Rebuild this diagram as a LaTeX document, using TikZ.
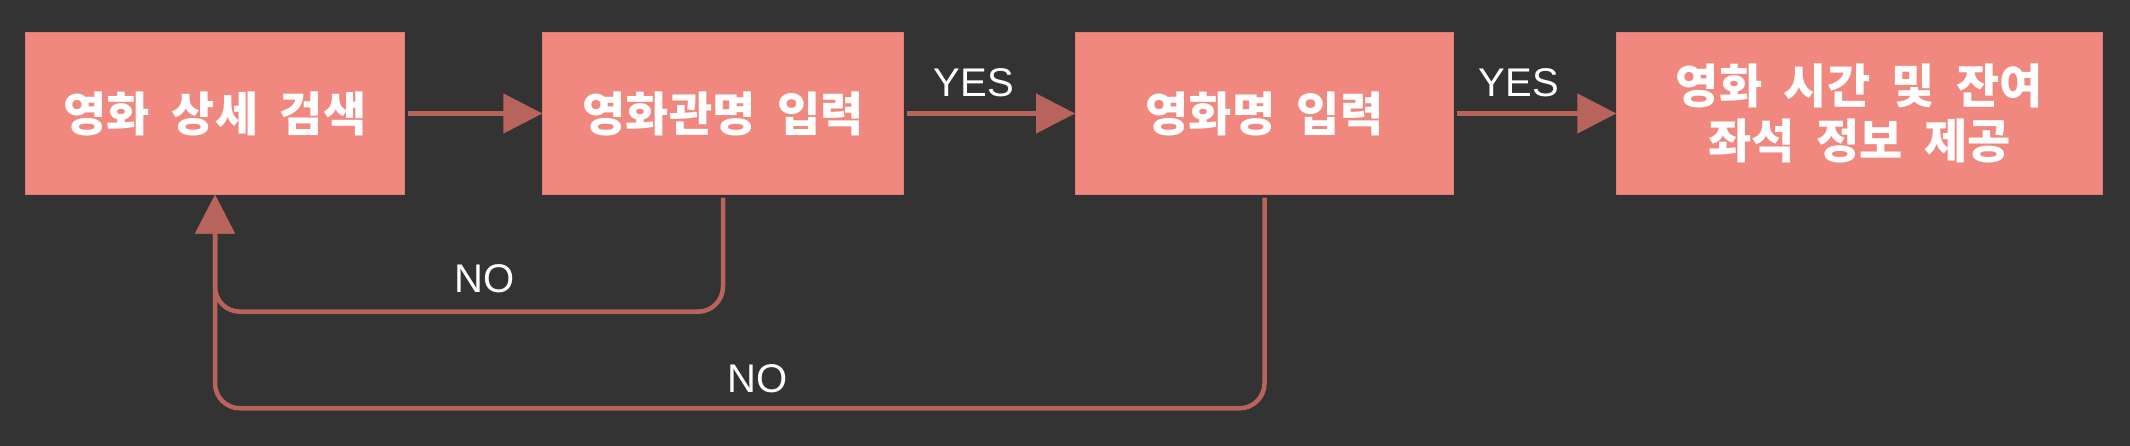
\documentclass[tikz,border=0pt]{standalone}
\usepackage{fontspec}
\setmainfont{Liberation Sans}
\newfontfamily\kr[WordSpace=2]{Noto Sans CJK KR}
\usetikzlibrary{arrows.meta}
\definecolor{bgcol}{HTML}{333333}
\definecolor{boxcol}{HTML}{F1887F}
\definecolor{linecol}{HTML}{B8645D}
\begin{document}
\begin{tikzpicture}[x=1pt, y=-1pt,
    box/.style={draw=boxcol!92!black, line width=0.8pt, fill=boxcol, text=white,
      minimum height=161.6pt, inner sep=0pt, align=center,
      font=\kr\bfseries\fontsize{47}{55}\selectfont},
    flow/.style={draw=linecol, line width=4.5pt, shorten <=3pt,
      -{Triangle[length=39pt, width=39pt]}},
    tag/.style={text=white, inner sep=0pt, anchor=south, font=\fontsize{40}{48}\selectfont}]
    % Background
    \fill[bgcol] (0, 0) rectangle (2130, 446);

    % Nodes
    \node[box, minimum width=378.6pt] (search) at (215, 113.5) {영화 상세 검색};
    \node[box, minimum width=360.5pt] (theater) at (723, 113.5) {영화관명 입력};
    \node[box, minimum width=378pt] (movie) at (1264.5, 113.5) {영화명 입력};
    \node[box, minimum width=485.5pt] (info) at (1859.5, 113.5) {영화 시간 및 잔여\\좌석 정보 제공};
    \coordinate (row1) at (0, 311.7);
    \coordinate (row2) at (0, 408.3);

    % Connections
    \draw[flow] (search) -- (theater);
    \draw[flow] (theater) -- node[tag, pos=0.41, yshift=14pt] {YES} (movie);
    \draw[flow] (movie) -- node[tag, pos=0.4, yshift=14pt] {YES} (info);
    \draw[flow, rounded corners=25pt] (theater.south) -- (theater.south |- row1)
      -- node[tag, pos=0.47, yshift=17pt] {NO} (search.south |- row1) -- (search.south);
    \draw[flow, rounded corners=25pt] (movie.south) -- (movie.south |- row2)
      -- node[tag, pos=0.483, yshift=13pt] {NO} (search.south |- row2) -- (search.south);
\end{tikzpicture}
\end{document}
